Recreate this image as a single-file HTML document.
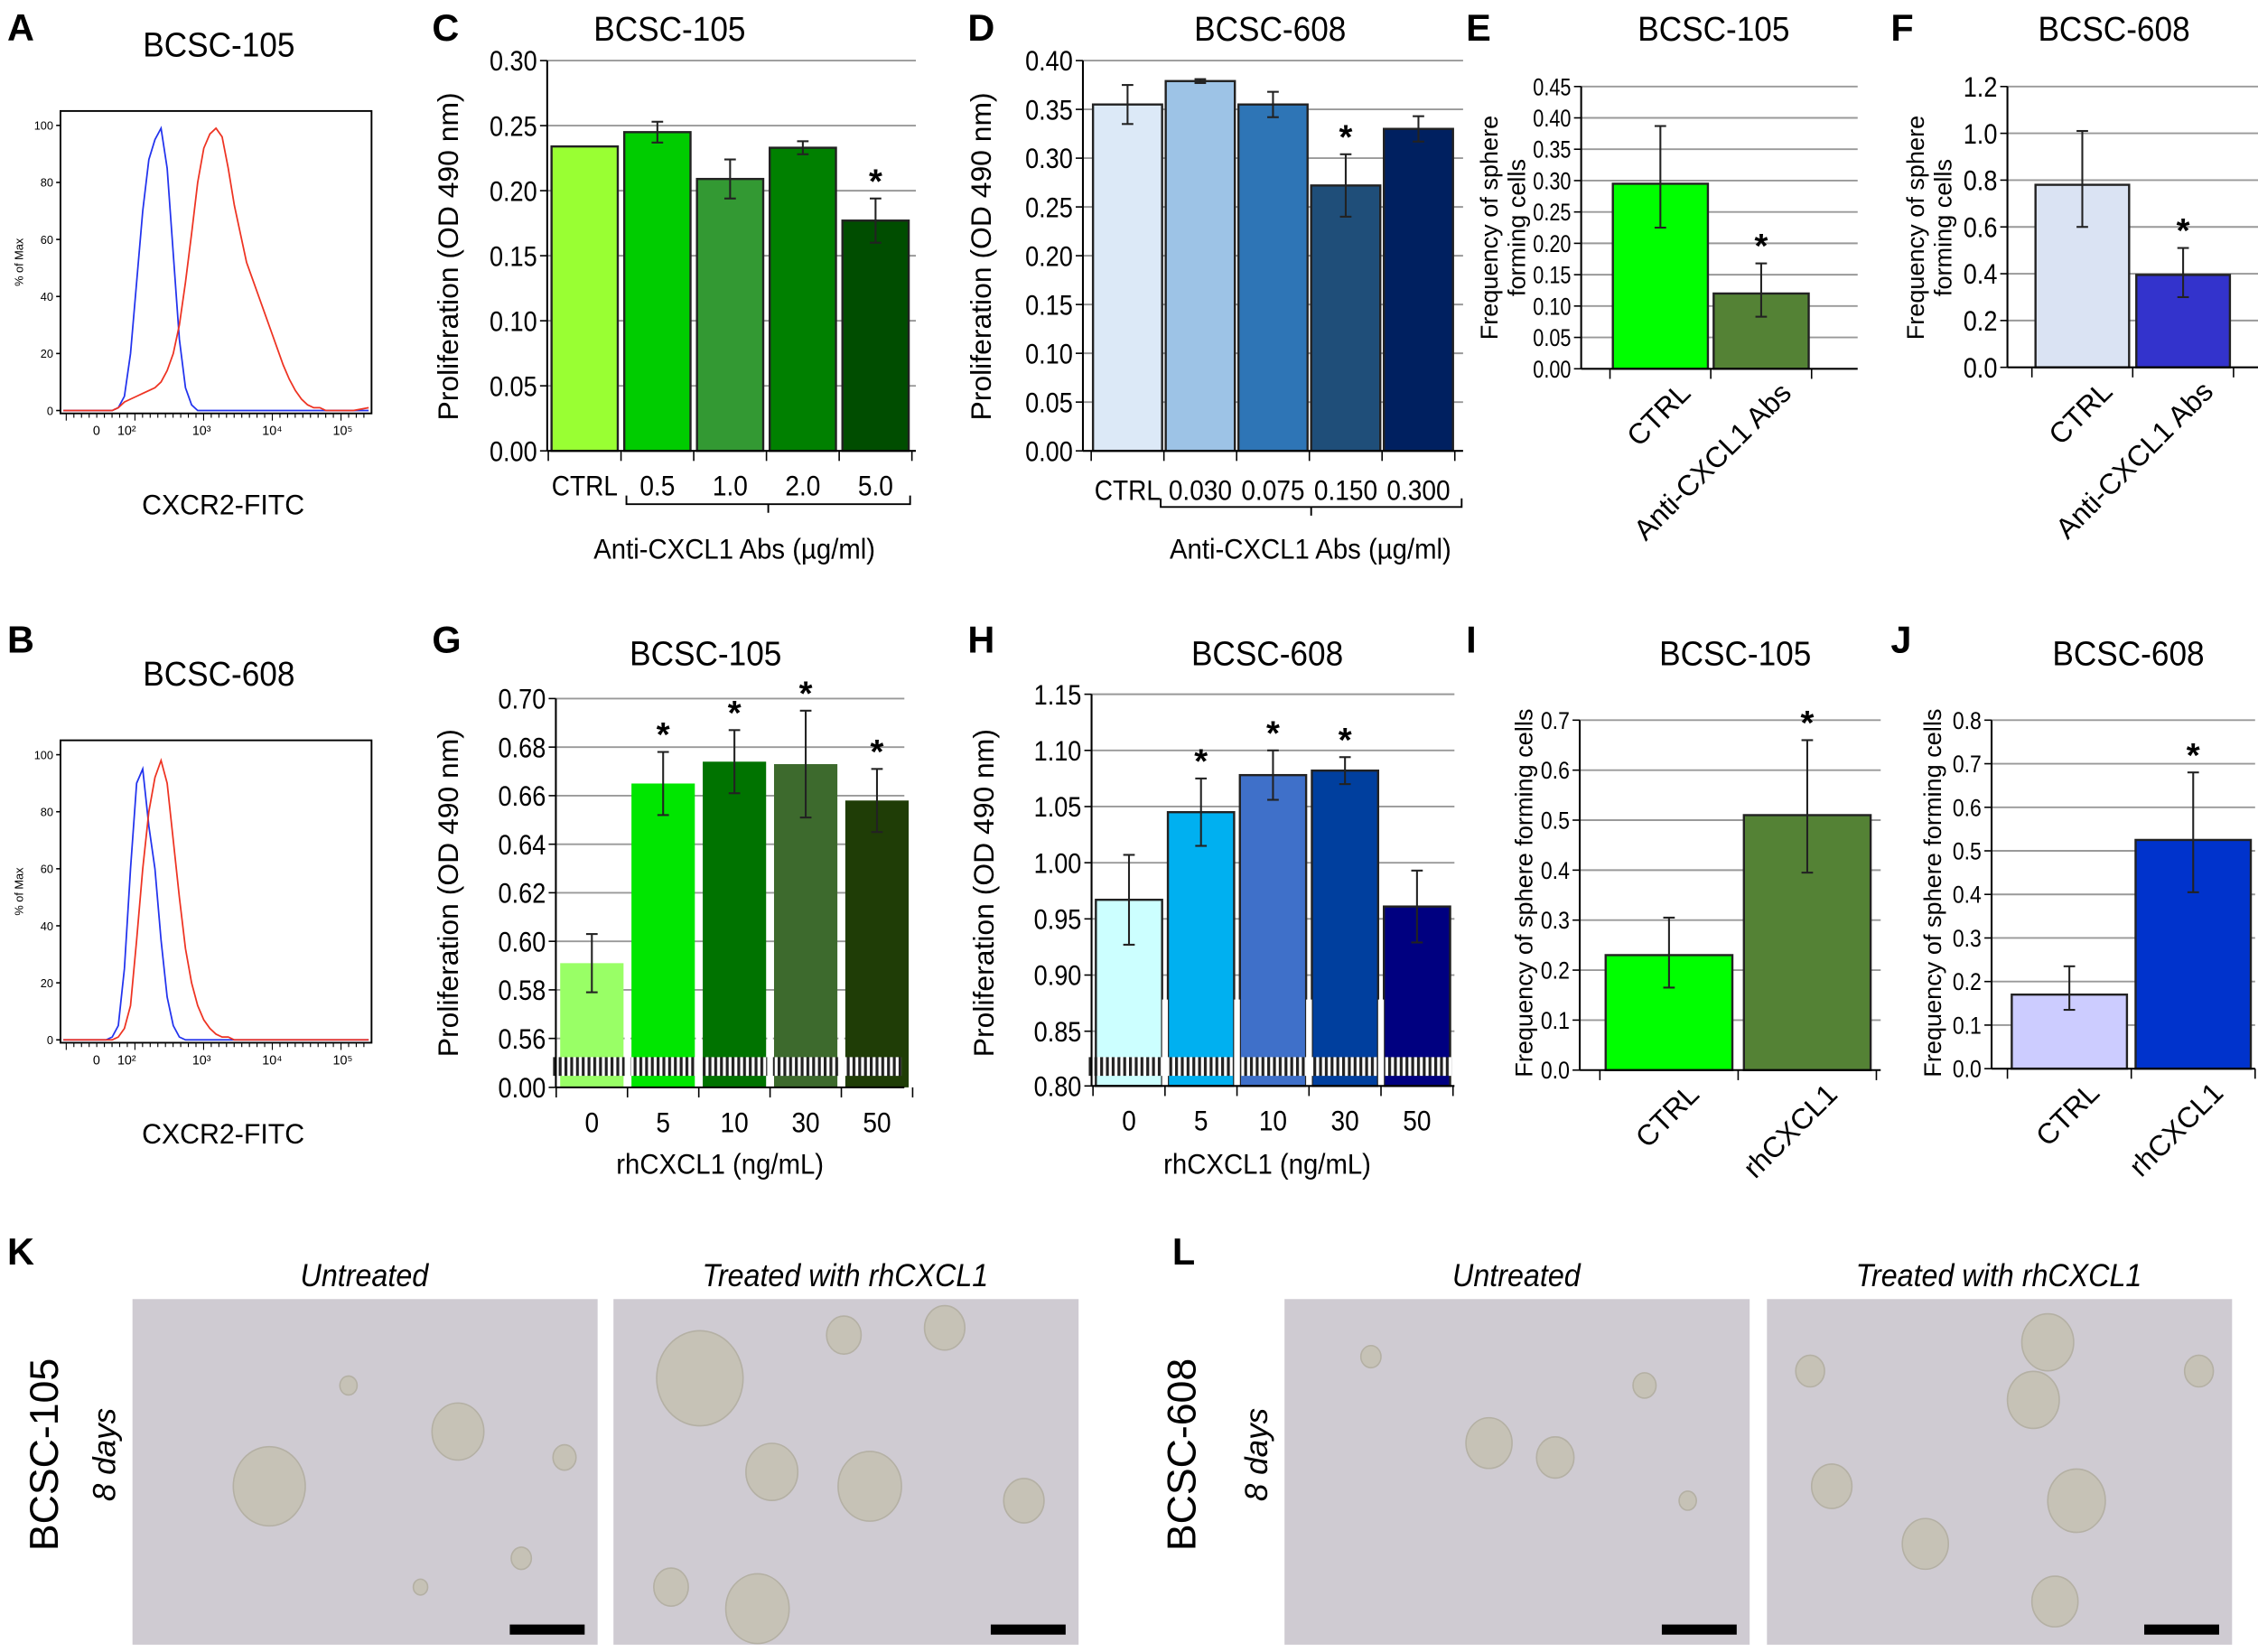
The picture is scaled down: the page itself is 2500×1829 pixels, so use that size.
<!DOCTYPE html>
<html><head><meta charset="utf-8"><style>
html,body{margin:0;padding:0;background:#fff;width:2500px;height:1829px;overflow:hidden}
svg{display:block}
text{font-family:"Liberation Sans",Arial,sans-serif}
</style></head><body>
<svg id="fig" width="2500" height="1829" viewBox="0 0 1568 1147" xmlns="http://www.w3.org/2000/svg">
<defs>
<pattern id="hatch" width="4" height="10" patternUnits="userSpaceOnUse"><rect width="4" height="10" fill="#fff"/><rect width="2" height="10" fill="#222"/></pattern>
</defs>
</svg>
<script>
// ---------- data ----------
const cCats=["CTRL","0.5","1.0","2.0","5.0"];
const cVals=[0.234,0.245,0.209,0.233,0.177];
const cErr=[0,0.008,0.015,0.005,0.017];
const cStar=[false,false,false,false,true];
const cTicks=[0,0.05,0.10,0.15,0.20,0.25,0.30];

const dCats=["CTRL","0.030","0.075","0.150","0.300"];
const dVals=[0.355,0.379,0.355,0.272,0.330];
const dErr=[0.02,0.002,0.013,0.032,0.013];
const dStar=[false,false,false,true,false];
const dTicks=[0,0.05,0.10,0.15,0.20,0.25,0.30,0.35,0.40];

const eCats=["CTRL","Anti-CXCL1 Abs"];
const eVals=[0.295,0.12];
const eLo=[0.225,0.083];
const eHi=[0.387,0.168];
const eTicks=[0,0.05,0.10,0.15,0.20,0.25,0.30,0.35,0.40,0.45];

const fCats=["CTRL","Anti-CXCL1 Abs"];
const fVals=[0.78,0.395];
const fLo=[0.60,0.30];
const fHi=[1.01,0.51];
const fTicks=[0,0.2,0.4,0.6,0.8,1.0,1.2];

const gCats=["0","5","10","30","50"];
const gVals=[0.591,0.665,0.674,0.673,0.658];
const gErr=[0.012,0.013,0.013,0.022,0.013];
const gStar=[false,true,true,true,true];
const gTicks=[0.56,0.58,0.60,0.62,0.64,0.66,0.68,0.70];

const hCats=["0","5","10","30","50"];
const hVals=[0.967,1.045,1.078,1.082,0.961];
const hErr=[0.04,0.03,0.022,0.012,0.032];
const hStar=[false,true,true,true,false];
const hTicks=[0.85,0.90,0.95,1.00,1.05,1.10,1.15];

const iCats=["CTRL","rhCXCL1"];
const iVals=[0.23,0.51];
const iLo=[0.165,0.395];
const iHi=[0.305,0.66];
const iTicks=[0,0.1,0.2,0.3,0.4,0.5,0.6,0.7];

const jCats=["CTRL","rhCXCL1"];
const jVals=[0.17,0.525];
const jLo=[0.135,0.405];
const jHi=[0.235,0.68];
const jTicks=[0,0.1,0.2,0.3,0.4,0.5,0.6,0.7,0.8];

// flow histograms: x in channel units (0..100), y = % of max
const histX=[0,5,10,12,14,16,18,20,22,24,26,28,30,32,34,36,38,40,42,44,46,48,50,52,54,56,58,60,62,64,66,68,70,72,74,76,78,80,82,84,86,88,90,95,100];
const aBlue=[0,0,0,0,0,0,1,5,20,45,70,88,95,99,85,55,25,8,2,0,0,0,0,0,0,0,0,0,0,0,0,0,0,0,0,0,0,0,0,0,0,0,0,0,0];
const aRed=[0,0,0,0,0,0,1,3,4,5,6,7,8,10,14,20,30,45,62,80,92,97,99,96,85,72,62,52,46,40,34,28,22,16,11,7,4,2,1,1,0,0,0,0,1];
const bBlue=[0,0,0,0,0,1,5,25,60,90,95,75,60,35,15,5,1,0,0,0,0,0,0,0,0,0,0,0,0,0,0,0,0,0,0,0,0,0,0,0,0,0,0,0,0];
const bRed=[0,0,0,0,0,0,1,4,12,35,60,80,92,98,90,70,50,32,20,12,7,4,2,1,1,0,0,0,0,0,0,0,0,0,0,0,0,0,0,0,0,0,0,0,0];

// ---------- helpers ----------
const NS="http://www.w3.org/2000/svg";
const svg=document.getElementById('fig');
function el(tag,attrs,parent,txt){
  const e=document.createElementNS(NS,tag);
  for(const k in attrs) e.setAttribute(k,attrs[k]);
  if(txt!==undefined) e.textContent=txt;
  (parent||svg).appendChild(e);
  return e;
}
function grp(name){
  const g=el('g',{});
  
  
  return g;
}
function txt(g,x,y,s,size,opt){
  opt=opt||{};
  const t=el('text',{x:x,y:y,'font-size':size,'text-anchor':opt.anchor||'middle',fill:'#000','font-weight':opt.bold?'bold':'normal','font-style':opt.italic?'italic':'normal'},g,s);
  if(opt.rot!==undefined) t.setAttribute('transform','rotate('+opt.rot+' '+x+' '+y+')');
  if(opt.sx) t.setAttribute('transform','translate('+x+' '+y+') scale('+opt.sx+' 1) translate('+(-x)+' '+(-y)+')');
  
  
  return t;
}
function fmt(v,d){return v.toFixed(d);}

// ---------- panel letters ----------
const letters=[["A",5,28],["C",300,28],["D",672,28],["E",1018,28],["F",1313,28],["B",5,453],["G",300,453],["H",672,453],["I",1018,453],["J",1313,453],["K",5,878],["L",814,878]];
const lg=grp('panel-letters');
letters.forEach(l=>{txt(lg,l[1],l[2],l[0],26,{anchor:'start',bold:true,name:'panel-letter-'+l[0].toLowerCase()});});

// ---------- flow histograms ----------
function flow(name,title,top,blue,red){
  const g=grp(name);
  const L=42,R=258,T=top,B=top+210;
  txt(g,152,top-38,title,24,{name:'histogram-title',sx:0.92});
  el('rect',{x:L,y:T,width:R-L,height:B-T,fill:'none',stroke:'#000','stroke-width':1.2},g);
  const y0=B-2, yTop=T+10;
  const ys=v=>y0-(v/100)*(y0-yTop);
  const xs=v=>L+2+(v/100)*(R-L-4);
  [0,20,40,60,80,100].forEach(v=>{
    el('line',{x1:L-3,x2:L,y1:ys(v),y2:ys(v),stroke:'#000'},g);
    txt(g,L-5,ys(v)+3,String(v),8,{anchor:'end',name:'y-tick-label'});
  });
  txt(g,L-26,(T+B)/2,'% of Max',8,{rot:-90,name:'y-axis-title'});
  const xl=[[67,"0"],[88,"10²"],[140,"10³"],[189,"10⁴"],[238,"10⁵"]];
  xl.forEach(p=>txt(g,p[0],B+15,p[1],9,{name:'x-tick-label'}));
  for(let i=0;i<40;i++){const x=L+4+i*5.3;el('line',{x1:x,x2:x,y1:B,y2:B+(i%9===0?5:3),stroke:'#000','stroke-width':0.7},g);}
  const pb=el('polyline',{points:histX.map((x,i)=>xs(x)+','+ys(blue[i])).join(' '),fill:'none',stroke:'#2233ee','stroke-width':1.1},g);
  
  
  const pr=el('polyline',{points:histX.map((x,i)=>xs(x)+','+ys(red[i])).join(' '),fill:'none',stroke:'#ee3322','stroke-width':1.1},g);
  
  
  txt(g,155,B+70,'CXCR2-FITC',20,{name:'x-axis-title',sx:0.95});
}
flow('panel-a-histogram','BCSC-105',77,aBlue,aRed);
flow('panel-b-histogram','BCSC-608',514,bBlue,bRed);

// ---------- bar chart ----------
function bars(cfg){
  const g=grp(cfg.name);
  txt(g,cfg.titleX,cfg.titleY,cfg.title,24,{name:'chart-title',sx:0.92});
  const ts=cfg.tickSize||20;
  const tsx=cfg.tickSx||0.85;
  cfg.ticks.forEach(v=>{
    const y=cfg.y(v);
    if(v!==cfg.ticks[0]||cfg.gridBottom) el('line',{x1:cfg.ax,x2:cfg.right,y1:y,y2:y,stroke:'#999','stroke-width':1.2},g);
    el('line',{x1:cfg.ax-5,x2:cfg.ax,y1:y,y2:y,stroke:'#000'},g);
    txt(g,cfg.ax-7,y+ts*0.35,fmt(v,cfg.dec),ts,{anchor:'end',name:'y-tick-label',sx:tsx});
  });
  if(cfg.extraTick!==undefined){
    const y=cfg.y(cfg.extraTick);
    el('line',{x1:cfg.ax-5,x2:cfg.ax,y1:y,y2:y,stroke:'#000'},g);
    txt(g,cfg.ax-7,y+ts*0.35,fmt(cfg.extraTick,cfg.dec),ts,{anchor:'end',name:'y-tick-label',sx:tsx});
  }
  const base=cfg.y(cfg.base);
  cfg.vals.forEach((v,i)=>{
    const cx=cfg.x0+i*cfg.step, w=cfg.bw;
    const r=el('rect',{x:cx-w/2,y:cfg.y(v),width:w,height:base-cfg.y(v),fill:cfg.colors[i],stroke:cfg.outline?'#222':'none','stroke-width':1.5},g);
    
    
    let lo,hi;
    if(cfg.lo){lo=cfg.lo[i];hi=cfg.hi[i];}else{lo=v-cfg.err[i];hi=v+cfg.err[i];}
    if(hi>lo){
      const eg=el('g',{stroke:'#222','stroke-width':1.3},g);
      
      
      el('line',{x1:cx,x2:cx,y1:cfg.y(lo),y2:cfg.y(hi)},eg);
      el('line',{x1:cx-4,x2:cx+4,y1:cfg.y(lo),y2:cfg.y(lo)},eg);
      el('line',{x1:cx-4,x2:cx+4,y1:cfg.y(hi),y2:cfg.y(hi)},eg);
    }
    if(cfg.star&&cfg.star[i]) txt(g,cx,cfg.y(hi)-4,'*',24,{bold:true,name:'significance-star'});
  });
  if(cfg.breakY){
    const hr=el('rect',{x:cfg.ax-2,y:cfg.breakY[0],width:cfg.right-cfg.ax,height:cfg.breakY[1]-cfg.breakY[0],fill:'url(#hatch)'},g);
    
    
    cfg.vals.forEach((v,i)=>{ if(i>0){const x=cfg.x0+i*cfg.step-cfg.step/2; el('rect',{x:x-2,y:cfg.breakY[0]-40,width:4,height:cfg.breakY[1]-cfg.breakY[0]+80,fill:'#fff'},g);} });
  }
  el('line',{x1:cfg.ax,x2:cfg.ax,y1:cfg.y(cfg.ticks[cfg.ticks.length-1]),y2:base,stroke:'#000','stroke-width':1.3},g);
  el('line',{x1:cfg.ax,x2:cfg.right,y1:base,y2:base,stroke:'#000','stroke-width':1.3},g);
  for(let i=0;i<=cfg.vals.length;i++){const x=cfg.x0-cfg.step/2+i*cfg.step;el('line',{x1:x,x2:x,y1:base,y2:base+7,stroke:'#000'},g);}
  cfg.cats.forEach((c,i)=>{
    const cx=cfg.x0+i*cfg.step;
    if(cfg.rotLabels) txt(g,cx+22,base+18,c,20,{anchor:'end',rot:-45,name:'x-tick-label'});
    else txt(g,cx,base+cfg.labDy,c,20,{name:'x-tick-label',sx:0.88});
  });
  if(cfg.bracket){
    const b=cfg.bracket;
    const p=el('path',{d:'M'+b[0]+' '+(b[2]-6)+' V'+b[2]+' H'+b[1]+' V'+(b[2]-6)+' M'+((b[0]+b[1])/2)+' '+b[2]+' V'+(b[2]+6),fill:'none',stroke:'#000','stroke-width':1.2},g);
    
    
  }
  if(cfg.xTitle) txt(g,cfg.xTitle[1],cfg.xTitle[2],cfg.xTitle[0],20,{name:'x-axis-title',sx:0.92});
  cfg.yTitle.forEach(t=>txt(g,t[1],t[2],t[0],t[3]||20,{rot:-90,name:'y-axis-title'}));
}
function lin(v0,y0,v1,y1){return v=>y0+(v-v0)/(v1-v0)*(y1-y0);}
function brk(lo,yLo,hi,yHi,bottom,yBottom,yBrk){const f=lin(lo,yLo,hi,yHi);return v=>v>=lo?f(v):yBottom+((v-bottom)/(lo-bottom))*(yBrk-yBottom);}

bars({name:'panel-c-chart',title:'BCSC-105',titleX:465,titleY:28,ax:380,right:636,y:lin(0,313,0.30,42),ticks:cTicks,dec:2,base:0,
  cats:cCats,vals:cVals,err:cErr,star:cStar,x0:406,step:50.5,bw:46,outline:true,labDy:31,
  colors:['#99ff33','#00cc00','#339933','#008000','#004d00'],bracket:[435,632,350],
  xTitle:['Anti-CXCL1 Abs (µg/ml)',510,388],yTitle:[['Proliferation (OD 490 nm)',318,178]]});
bars({name:'panel-d-chart',title:'BCSC-608',titleX:882,titleY:28,ax:752,right:1016,y:lin(0,313,0.40,42),ticks:dTicks,dec:2,base:0,
  cats:dCats,vals:dVals,err:dErr,star:dStar,x0:783,step:50.5,bw:48,outline:true,labDy:34,
  colors:['#dce9f7','#9dc3e6','#2e75b6','#1f4e79','#002060'],bracket:[806,1015,352],
  xTitle:['Anti-CXCL1 Abs (µg/ml)',910,388],yTitle:[['Proliferation (OD 490 nm)',688,178]]});
bars({name:'panel-e-chart',title:'BCSC-105',titleX:1190,titleY:28,ax:1098,right:1290,y:lin(0,256,0.45,60),ticks:eTicks,dec:2,base:0,
  cats:eCats,vals:eVals,lo:eLo,hi:eHi,star:[false,true],x0:1153,step:70,bw:66,outline:true,rotLabels:true,tickSize:17,tickSx:0.8,
  colors:['#00ff00','#548235'],yTitle:[['Frequency of sphere',1040,158,17],['forming cells',1059,158,17]]});
bars({name:'panel-f-chart',title:'BCSC-608',titleX:1468,titleY:28,ax:1394,right:1568,y:lin(0,255,1.2,60),ticks:fTicks,dec:1,base:0,
  cats:fCats,vals:fVals,lo:fLo,hi:fHi,star:[false,true],x0:1446,step:70,bw:65,outline:true,rotLabels:true,
  colors:['#dae3f3','#3333cc'],yTitle:[['Frequency of sphere',1336,158,17],['forming cells',1355,158,17]]});
bars({name:'panel-g-chart',title:'BCSC-105',titleX:490,titleY:462,ax:386,right:628,y:brk(0.56,721,0.70,485,0,755,736),ticks:gTicks,dec:2,base:0,extraTick:0,gridBottom:true,
  cats:gCats,vals:gVals,err:gErr,star:gStar,x0:411,step:49.5,bw:44,outline:false,labDy:31,breakY:[734,747],
  colors:['#99ff66','#00e600','#007300','#3d6a2d','#1f3d06'],
  xTitle:['rhCXCL1  (ng/mL)',500,815],yTitle:[['Proliferation (OD 490 nm)',318,620]]});
bars({name:'panel-h-chart',title:'BCSC-608',titleX:880,titleY:462,ax:758,right:1010,y:brk(0.85,716,1.15,482,0.80,754,736),ticks:hTicks,dec:2,base:0.80,extraTick:0.80,gridBottom:true,
  cats:hCats,vals:hVals,err:hErr,star:hStar,x0:784,step:50,bw:46,outline:true,labDy:31,breakY:[734,747],
  colors:['#ccffff','#00b0f0','#3f70c9','#003f9e','#000080'],
  xTitle:['rhCXCL1  (ng/mL)',880,815],yTitle:[['Proliferation (OD 490 nm)',690,620]]});
bars({name:'panel-i-chart',title:'BCSC-105',titleX:1205,titleY:462,ax:1097,right:1306,y:lin(0,743,0.7,500),ticks:iTicks,dec:1,base:0,tickSize:17,tickSx:0.85,
  cats:iCats,vals:iVals,lo:iLo,hi:iHi,star:[false,true],x0:1159,step:96,bw:88,outline:true,rotLabels:true,
  colors:['#00ff00','#548235'],yTitle:[['Frequency of sphere forming cells',1064,620,17]]});
bars({name:'panel-j-chart',title:'BCSC-608',titleX:1478,titleY:462,ax:1383,right:1566,y:lin(0,742,0.8,500),ticks:jTicks,dec:1,base:0,tickSize:17,tickSx:0.85,
  cats:jCats,vals:jVals,lo:jLo,hi:jHi,star:[false,true],x0:1437,step:86,bw:80,outline:true,rotLabels:true,
  colors:['#ccccff','#0033cc'],yTitle:[['Frequency of sphere forming cells',1348,620,17]]});

// ---------- micrographs ----------
function photo(name,x,title,spheres){
  const g=grp(name);
  txt(g,x+161,893,title,22,{italic:true,name:'image-title',sx:0.92});
  const r=el('rect',{x:x,y:902,width:323,height:240,fill:'#cfcbd2'},g);
  
  
  spheres.forEach(s=>el('ellipse',{cx:x+s[0],cy:902+s[1],rx:s[2],ry:s[2]*1.1,fill:'#c6c2b6',stroke:'#b4b0a4','stroke-width':1},g));
  const sb=el('rect',{x:x+262,y:1128,width:52,height:7,fill:'#000'},g);
  
  
}
const kU=[[95,130,25],[226,92,18],[300,110,8],[150,60,6],[270,180,7],[200,200,5]];
const kT=[[60,55,30],[110,120,18],[178,130,22],[100,215,22],[285,140,14],[160,25,12],[40,200,12],[230,20,14]];
const lU=[[142,100,16],[188,110,13],[60,40,7],[250,60,8],[280,140,6]];
const lT=[[195,30,18],[185,70,18],[45,130,14],[215,140,20],[110,170,16],[200,210,16],[300,50,10],[30,50,10]];
photo('micrograph-k-untreated',92,'Untreated',kU);
photo('micrograph-k-treated',426,'Treated with rhCXCL1',kT);
photo('micrograph-l-untreated',892,'Untreated',lU);
photo('micrograph-l-treated',1227,'Treated with rhCXCL1',lT);
const sl=grp('row-labels');
txt(sl,40,1010,'BCSC-105',28,{rot:-90,name:'row-label-bcsc-105'});
txt(sl,80,1010,'8 days',22,{rot:-90,italic:true,name:'time-label'});
txt(sl,830,1010,'BCSC-608',28,{rot:-90,name:'row-label-bcsc-608'});
txt(sl,880,1010,'8 days',22,{rot:-90,italic:true,name:'time-label'});
</script>
</body></html>
